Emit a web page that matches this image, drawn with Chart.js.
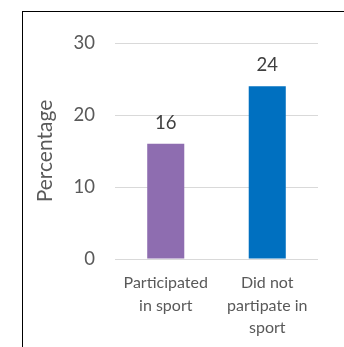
<!DOCTYPE html>
<html>
<head>
<meta charset="utf-8">
<script src="https://cdn.jsdelivr.net/npm/chart.js@4"></script>
<style>
  html, body { margin: 0; padding: 0; background: #fff; overflow: hidden; }
  #frame { position: absolute; left: 22px; top: 11px; width: 400px; height: 400px; border: 1px solid #000; }
  #wrap { position: absolute; left: 0; top: 0; width: 344px; height: 347px; }
</style>
</head>
<body>
<div id="frame"></div>
<div id="wrap"><canvas id="chart" width="344" height="347"></canvas></div>
<script>
const categories = [["Participated", "in sport"], ["Did not", "partipate in", "sport"]];
const values = [16, 24];
const barColors = ["#8e6db0", "#0070c0"];
const yTicks = [0, 10, 20, 30];
const yTitle = "Percentage";

const fontFamily = "Lato, 'Open Sans', sans-serif";

// Draw the value above each bar
const valueLabels = {
    id: "valueLabels",
    afterDatasetsDraw(chart) {
        const ctx = chart.ctx;
        const meta = chart.getDatasetMeta(0);
        ctx.save();
        ctx.fillStyle = "#404040";
        ctx.font = "18.5px " + fontFamily;
        ctx.textAlign = "center";
        ctx.textBaseline = "middle";
        meta.data.forEach((bar, i) => {
            ctx.fillText(String(values[i]), bar.x, bar.y - 21);
        });
        ctx.restore();
    }
};

const ctx = document.getElementById("chart").getContext("2d");
new Chart(ctx, {
    type: "bar",
    data: {
        labels: categories,
        datasets: [{
            data: values,
            backgroundColor: barColors,
            barPercentage: 0.365,
            categoryPercentage: 1
        }]
    },
    options: {
        responsive: false,
        animation: false,
        layout: { padding: { left: 34, right: 26, top: 43, bottom: 0 } },
        plugins: { legend: { display: false }, tooltip: { enabled: false } },
        scales: {
            x: {
                grid: { display: false },
                border: { display: false },
                ticks: {
                    color: "#595959",
                    font: { family: fontFamily, size: 16, lineHeight: "22.5px" },
                    padding: 5,
                    maxRotation: 0
                },
                afterFit(scale) { scale.height = 88; }
            },
            y: {
                min: yTicks[0],
                max: yTicks[yTicks.length - 1],
                grid: { color: "#d9d9d9", lineWidth: 1, drawTicks: false },
                border: { display: false },
                ticks: {
                    stepSize: 10,
                    color: "#595959",
                    font: { family: fontFamily, size: 18.5 },
                    padding: 20
                },
                title: {
                    display: true,
                    text: yTitle,
                    color: "#595959",
                    font: { family: fontFamily, size: 21, lineHeight: "22px" },
                    padding: 0
                },
                afterFit(scale) { scale.width = 81; }
            }
        }
    },
    plugins: [valueLabels]
});
</script>
</body>
</html>
